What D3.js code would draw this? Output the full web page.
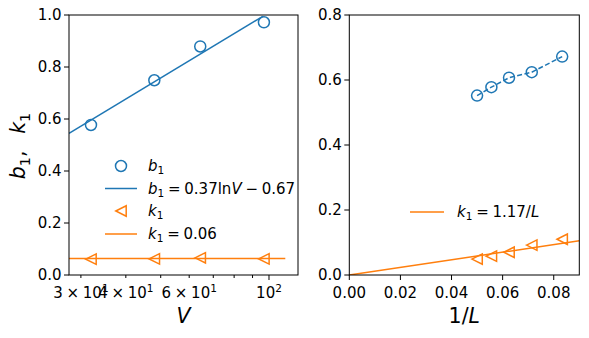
<!DOCTYPE html>
<html><head><meta charset="utf-8">
<script src="https://cdn.jsdelivr.net/npm/d3@7"></script>
<style>body{margin:0;background:#fff}svg{display:block;font-family:"DejaVu Sans",sans-serif}</style>
</head><body><div id="c"></div>
<script>
// ---- data ----
const V = [32, 48, 64.4, 96.8];
const b1V = [0.577, 0.749, 0.879, 0.972];
const k1V = [0.061, 0.062, 0.066, 0.062];
const fitV = [27.8, 96.2];
const fitB1 = [0.545, 0.995];
const constV = [27.8, 111];
const constK1 = [0.063, 0.063];

const invL = [0.05, 0.0556, 0.0625, 0.0714, 0.0833];
const b1L = [0.552, 0.578, 0.607, 0.624, 0.672];
const k1L = [0.049, 0.058, 0.070, 0.092, 0.110];
const fitInvL = [0, 0.09];
const fitK1L = [0, 0.1053];

const leftYTicks = [0, 0.2, 0.4, 0.6, 0.8, 1.0];
const rightYTicks = [0, 0.2, 0.4, 0.6, 0.8];
const rightXTicks = [0, 0.02, 0.04, 0.06, 0.08];
const logMinor = [30, 40, 50, 60, 70, 80, 90];
const logMajor = [100];
const SP = "\u2005";
const logLabels = [
  {v: 30, parts: [["3" + SP + "\u00d7" + SP + "10"], ["1", "sup"]]},
  {v: 40, parts: [["4" + SP + "\u00d7" + SP + "10"], ["1", "sup"]]},
  {v: 60, parts: [["6" + SP + "\u00d7" + SP + "10"], ["1", "sup"]]},
  {v: 100, parts: [["10"], ["2", "sup"]]}
];

const BLUE = "#1f77b4", ORANGE = "#ff7f0e";
const W = 589, H = 338;
const TF = 15, LF = 20.5;

const svg = d3.select("#c").append("svg").attr("width", W).attr("height", H);

// math-like text helper
function mtext(g, x, y, parts, size, anchor) {
  const t = g.append("text").attr("x", x).attr("y", y).attr("font-size", size)
    .attr("text-anchor", anchor || "start").attr("fill", "#000");
  let shift = 0;
  parts.forEach(([s, st]) => {
    const sp = t.append("tspan").text(s);
    let target = 0;
    if (st === "sub") { target = size * 0.22; sp.attr("font-size", size * 0.7); }
    else if (st === "sup") { target = -size * 0.38; sp.attr("font-size", size * 0.7); }
    if (st === "i") sp.attr("font-style", "italic");
    if (target !== shift) { sp.attr("dy", target - shift); shift = target; }
  });
  return t;
}

const tri = r => `M${-r},0L${r},${-r}L${r},${r}Z`;

// ---------- Left axes ----------
const L = {x0: 69, x1: 298, y0: 15, y1: 275};
const xL = d3.scaleLog().domain([27.8, 120.4]).range([L.x0, L.x1]);
const yL = d3.scaleLinear().domain([0, 1]).range([L.y1, L.y0]);
const gL = svg.append("g");
svg.append("clipPath").attr("id", "clipL").append("rect")
  .attr("x", L.x0).attr("y", L.y0).attr("width", L.x1 - L.x0).attr("height", L.y1 - L.y0);

const line = (xs, ys, sx, sy) => d3.line().x((d, i) => sx(xs[i])).y((d, i) => sy(ys[i]))(xs);

gL.append("path").attr("d", line(fitV, fitB1, xL, yL)).attr("clip-path", "url(#clipL)")
  .attr("fill", "none").attr("stroke", BLUE).attr("stroke-width", 1.5);
gL.append("path").attr("d", line(constV, constK1, xL, yL)).attr("clip-path", "url(#clipL)")
  .attr("fill", "none").attr("stroke", ORANGE).attr("stroke-width", 1.5);
gL.selectAll("circle.b").data(V).join("circle").attr("class", "b")
  .attr("cx", d => xL(d)).attr("cy", (d, i) => yL(b1V[i])).attr("r", 5.5)
  .attr("fill", "none").attr("stroke", BLUE).attr("stroke-width", 1.5);
gL.selectAll("path.k").data(V).join("path").attr("class", "k")
  .attr("d", tri(5.2)).attr("transform", (d, i) => `translate(${xL(d)},${yL(k1V[i])})`)
  .attr("fill", "none").attr("stroke", ORANGE).attr("stroke-width", 1.5);

gL.append("rect").attr("x", L.x0).attr("y", L.y0).attr("width", L.x1 - L.x0).attr("height", L.y1 - L.y0)
  .attr("fill", "none").attr("stroke", "#000").attr("stroke-width", 1);

// y ticks
leftYTicks.forEach(v => {
  gL.append("line").attr("x1", L.x0 - 5).attr("x2", L.x0).attr("y1", yL(v)).attr("y2", yL(v)).attr("stroke", "#000");
  gL.append("text").attr("x", L.x0 - 7.5).attr("y", yL(v) + 5.4).attr("text-anchor", "end")
    .attr("font-size", TF).text(d3.format(".1f")(v));
});
// x ticks (log)
logMinor.forEach(v => gL.append("line").attr("x1", xL(v)).attr("x2", xL(v)).attr("y1", L.y1).attr("y2", L.y1 + 3).attr("stroke", "#000"));
logMajor.forEach(v => gL.append("line").attr("x1", xL(v)).attr("x2", xL(v)).attr("y1", L.y1).attr("y2", L.y1 + 5).attr("stroke", "#000"));
logLabels.forEach(o => mtext(gL, xL(o.v), 297.5, o.parts, TF, "middle"));

mtext(gL, (L.x0 + L.x1) / 2, 322.5, [["V", "i"]], LF, "middle");
// y label rotated
const yl = svg.append("g").attr("transform", "translate(25,146) rotate(-90)");
mtext(yl, 0, 0, [["b", "i"], ["1", "sub"], [",\u2002 "], ["k", "i"], ["1", "sub"]], LF, "middle");

// legend left
const lg = svg.append("g");
const tx = 148;
lg.append("circle").attr("cx", 121).attr("cy", 166).attr("r", 5.5).attr("fill", "none").attr("stroke", BLUE).attr("stroke-width", 1.5);
mtext(lg, tx, 171, [["b", "i"], ["1", "sub"]], TF);
lg.append("line").attr("x1", 105).attr("x2", 137).attr("y1", 188.5).attr("y2", 188.5).attr("stroke", BLUE).attr("stroke-width", 1.5);
mtext(lg, tx, 193.5, [["b", "i"], ["1", "sub"], [SP + "=" + SP + "0.37ln"], ["V", "i"], [SP + "\u2212" + SP + "0.67"]], TF);
lg.append("path").attr("d", tri(5.2)).attr("transform", "translate(121,211)").attr("fill", "none").attr("stroke", ORANGE).attr("stroke-width", 1.5);
mtext(lg, tx, 216, [["k", "i"], ["1", "sub"]], TF);
lg.append("line").attr("x1", 105).attr("x2", 137).attr("y1", 234).attr("y2", 234).attr("stroke", ORANGE).attr("stroke-width", 1.5);
mtext(lg, tx, 239, [["k", "i"], ["1", "sub"], [SP + "=" + SP + "0.06"]], TF);

// ---------- Right axes ----------
const R = {x0: 349.3, x1: 579.3, y0: 15, y1: 275};
const xR = d3.scaleLinear().domain([0, 0.09]).range([R.x0, R.x1]);
const yR = d3.scaleLinear().domain([0, 0.8]).range([R.y1, R.y0]);
const gR = svg.append("g");
svg.append("clipPath").attr("id", "clipR").append("rect")
  .attr("x", R.x0).attr("y", R.y0).attr("width", R.x1 - R.x0).attr("height", R.y1 - R.y0);

gR.append("path").attr("d", line(fitInvL, fitK1L, xR, yR)).attr("clip-path", "url(#clipR)")
  .attr("fill", "none").attr("stroke", ORANGE).attr("stroke-width", 1.5);
gR.append("path").attr("d", line(invL, b1L, xR, yR))
  .attr("fill", "none").attr("stroke", BLUE).attr("stroke-width", 1.5).attr("stroke-dasharray", "5,2.5");
gR.selectAll("circle.b").data(invL).join("circle").attr("class", "b")
  .attr("cx", d => xR(d)).attr("cy", (d, i) => yR(b1L[i])).attr("r", 5.5)
  .attr("fill", "none").attr("stroke", BLUE).attr("stroke-width", 1.5);
gR.selectAll("path.k").data(invL).join("path").attr("class", "k")
  .attr("d", tri(5.2)).attr("transform", (d, i) => `translate(${xR(d)},${yR(k1L[i])})`)
  .attr("fill", "none").attr("stroke", ORANGE).attr("stroke-width", 1.5);

gR.append("rect").attr("x", R.x0).attr("y", R.y0).attr("width", R.x1 - R.x0).attr("height", R.y1 - R.y0)
  .attr("fill", "none").attr("stroke", "#000").attr("stroke-width", 1);

rightYTicks.forEach(v => {
  gR.append("line").attr("x1", R.x0 - 5).attr("x2", R.x0).attr("y1", yR(v)).attr("y2", yR(v)).attr("stroke", "#000");
  gR.append("text").attr("x", R.x0 - 7.5).attr("y", yR(v) + 5.4).attr("text-anchor", "end")
    .attr("font-size", TF).text(d3.format(".1f")(v));
});
rightXTicks.forEach(v => {
  gR.append("line").attr("x1", xR(v)).attr("x2", xR(v)).attr("y1", R.y1).attr("y2", R.y1 + 5).attr("stroke", "#000");
  gR.append("text").attr("x", xR(v)).attr("y", 297.5).attr("text-anchor", "middle")
    .attr("font-size", TF).text(d3.format(".2f")(v));
});
mtext(gR, (R.x0 + R.x1) / 2, 322.5, [["1/"], ["L", "i"]], LF, "middle");

// legend right
gR.append("line").attr("x1", 410).attr("x2", 444).attr("y1", 212).attr("y2", 212).attr("stroke", ORANGE).attr("stroke-width", 1.5);
mtext(gR, 457, 217, [["k", "i"], ["1", "sub"], [SP + "=" + SP + "1.17/"], ["L", "i"]], TF);
</script></body></html>
